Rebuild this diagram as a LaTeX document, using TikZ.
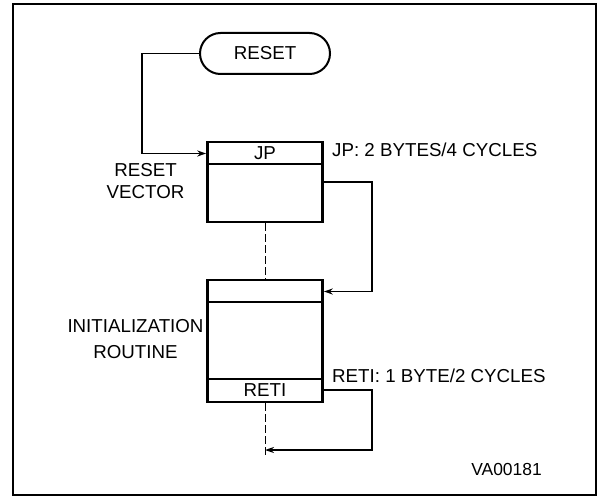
\documentclass[tikz,border=0pt]{standalone}
\usepackage{fontspec}
\setmainfont{Liberation Sans}
\usetikzlibrary{arrows.meta, shapes.misc, positioning}

\begin{document}
\begin{tikzpicture}[x=1bp, y=-1bp, >={Stealth[length=9bp,width=6bp]},
    every node/.style={font=\fontsize{18.8}{22}\selectfont, inner sep=0pt},
    memblock/.style={draw, line width=2.6bp, minimum width=115bp},
    terminal/.style={draw, line width=2bp, rounded rectangle,
                     minimum width=130bp, minimum height=41bp},
    link/.style={line width=1.4bp, ->},
    divider/.style={line width=2.2bp},
    guide/.style={line width=1bp, dash pattern=on 8bp off 3bp}]
      \useasboundingbox (0,0) rectangle (597,496);
      % Frame
      \draw[line width=1.6bp] (13,4) rectangle (596,495);
      % Reset entry
      \node[terminal] (reset) at (265,53.5) {RESET};
      % Reset vector
      \node[memblock, minimum height=80bp] (vec) at (265,182) {};
      \draw[divider] ([yshift=-23bp]vec.north west) -- ([yshift=-23bp]vec.north east);
      \node (jp) at (265,153.5) {JP};
      \node[align=center] (veclabel) at (145.5,181.5) {RESET\\VECTOR};
      \node[anchor=west] (jpcost) at (332,150) {JP: 2 BYTES/4 CYCLES};
      % Initialization routine
      \node[memblock, minimum height=122bp] (init) at (265,341) {};
      \draw[divider] ([yshift=-23bp]init.north west) -- ([yshift=-23bp]init.north east);
      \draw[divider] ([yshift=24bp]init.south west) -- ([yshift=24bp]init.south east);
      \node (entry) at (265,291.5) {};
      \node (reti) at (265,390) {RETI};
      \node[align=center] (initlabel) at (135.5,339) {INITIALIZATION\\[4bp]ROUTINE};
      \node[anchor=west] (reticost) at (332,375.5) {RETI: 1 BYTE/2 CYCLES};
      \coordinate (back) at (265,450);
      \coordinate (tail) at (265,458);
      % Flow
      \draw[link] (reset.west) -- ++(-57,0) |- (jp -| vec.west);
      \draw[link] (vec.east) -- ++(48,0) |- (entry -| init.east);
      \draw[link] (reti -| init.east) -- ++(48,0) |- (back);
      \draw[guide] (vec.south) -- (init.north);
      \draw[guide] (init.south) -- (tail);
      \node[font=\fontsize{17.5}{20}\selectfont] (code) at (506.5,469) {VA00181};
    \end{tikzpicture}
\end{document}
